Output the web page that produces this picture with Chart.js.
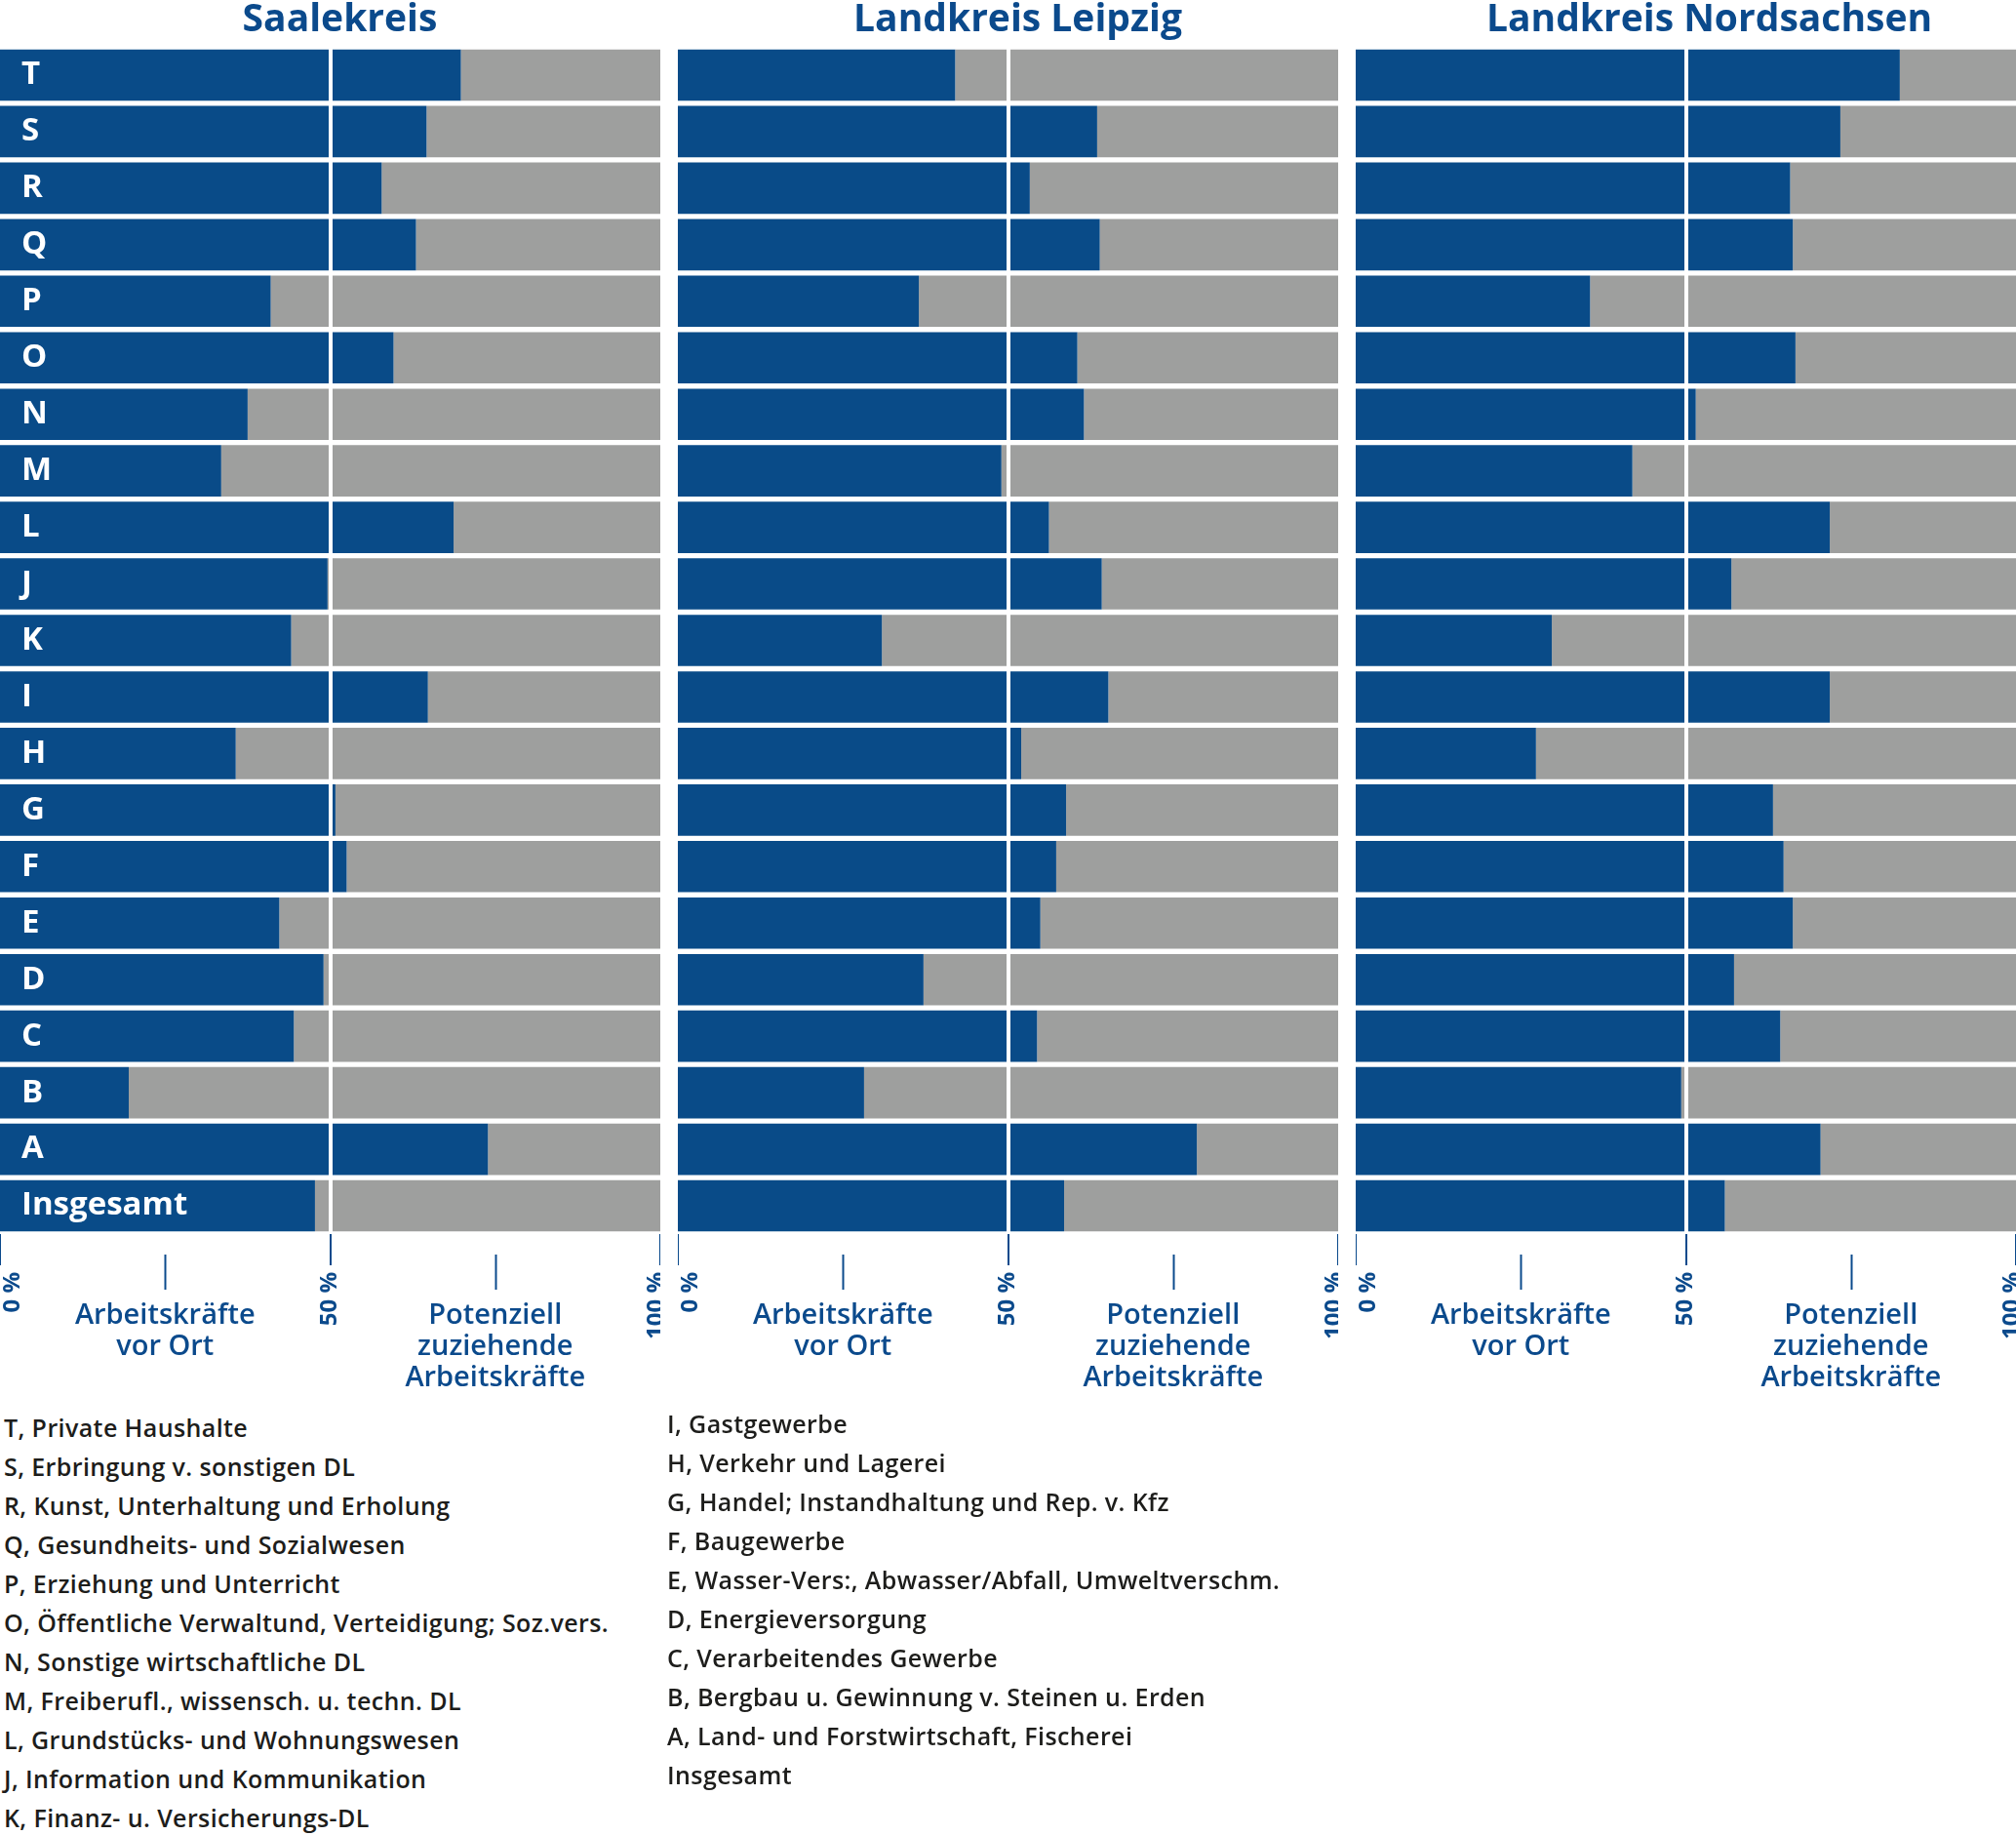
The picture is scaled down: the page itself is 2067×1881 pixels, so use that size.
<!DOCTYPE html>
<html lang="de">
<head>
<meta charset="utf-8">
<title>Arbeitskräfte vor Ort und potenziell zuziehende Arbeitskräfte</title>
<script src="https://cdn.jsdelivr.net/npm/chart.js@4.4.1/dist/chart.umd.min.js"></script>
<style>
  html, body { margin: 0; padding: 0; background: #ffffff; }
  body { width: 2067px; height: 1881px; position: relative; overflow: hidden; font-family: 'Open Sans', sans-serif; }
  .panel { position: absolute; top: 0; width: 677px; height: 1440px; }
  .key { position: absolute; font-family: 'Open Sans', sans-serif; font-weight: 600; font-size: 25px; letter-spacing: 0.4px; line-height: 40px; color: #1d1d1b; white-space: nowrap; }
</style>
</head>
<body>
<div class="panel" style="left:0px"><canvas id="c0"></canvas></div>
<div class="panel" style="left:695px"><canvas id="c1"></canvas></div>
<div class="panel" style="left:1390px"><canvas id="c2"></canvas></div>
<div class="key" id="key1" style="left:4px; top:1443px"></div>
<div class="key" id="key2" style="left:684px; top:1439px"></div>
<script>
// ---------- data ----------
const categories = ['T','S','R','Q','P','O','N','M','L','J','K','I','H','G','F','E','D','C','B','A','Insgesamt'];
const regions = ['Saalekreis', 'Landkreis Leipzig', 'Landkreis Nordsachsen'];
// Anteil "Arbeitskräfte vor Ort" in %
const saalekreis  = [69.8, 64.6, 57.8, 63.0, 41.0, 59.6, 37.5, 33.5, 68.7, 49.6, 44.1, 64.8, 35.7, 50.8, 52.5, 42.3, 49.0, 44.5, 19.5, 73.9, 47.7];
const leipzig     = [42.0, 63.5, 53.3, 63.9, 36.5, 60.5, 61.5, 49.0, 56.2, 64.2, 30.9, 65.2, 52.0, 58.8, 57.3, 54.9, 37.2, 54.4, 28.2, 78.6, 58.5];
const nordsachsen = [82.4, 73.4, 65.8, 66.2, 35.5, 66.6, 51.5, 41.9, 71.8, 56.9, 29.7, 71.8, 27.3, 63.2, 64.8, 66.2, 57.3, 64.3, 49.3, 70.4, 55.9];
const seriesNames = ['Arbeitskräfte vor Ort', 'Potenziell zuziehende Arbeitskräfte'];
const xTickValues = [0, 50, 100];
const xTickLabels = ['0 %', '50 %', '100 %'];
const groupValues = [25, 75];
const groupLabels = [['Arbeitskräfte', 'vor Ort'], ['Potenziell', 'zuziehende', 'Arbeitskräfte']];
const keyColumn1 = [
  'T, Private Haushalte',
  'S, Erbringung v. sonstigen DL',
  'R, Kunst, Unterhaltung und Erholung',
  'Q, Gesundheits- und Sozialwesen',
  'P, Erziehung und Unterricht',
  'O, Öffentliche Verwaltund, Verteidigung; Soz.vers.',
  'N, Sonstige wirtschaftliche DL',
  'M, Freiberufl., wissensch. u. techn. DL',
  'L, Grundstücks- und Wohnungswesen',
  'J, Information und Kommunikation',
  'K, Finanz- u. Versicherungs-DL'
];
const keyColumn2 = [
  'I, Gastgewerbe',
  'H, Verkehr und Lagerei',
  'G, Handel; Instandhaltung und Rep. v. Kfz',
  'F, Baugewerbe',
  'E, Wasser-Vers:, Abwasser/Abfall, Umweltverschm.',
  'D, Energieversorgung',
  'C, Verarbeitendes Gewerbe',
  'B, Bergbau u. Gewinnung v. Steinen u. Erden',
  'A, Land- und Forstwirtschaft, Fischerei',
  'Insgesamt'
];

// ---------- style ----------
const BLUE = '#094b88';
const GREY = '#9e9f9e';
const TEXTBLUE = '#0b4a8c';
Chart.defaults.font.family = "'Open Sans', sans-serif";

document.getElementById('key1').innerHTML = keyColumn1.map(t => '<div>' + t + '</div>').join('');
document.getElementById('key2').innerHTML = keyColumn2.map(t => '<div>' + t + '</div>').join('');

const axisDecor = {
  id: 'axisDecor',
  afterDraw(chart, args, opts) {
    const ctx = chart.ctx;
    const xs = chart.scales.x;
    const b = chart.chartArea.bottom;
    ctx.save();
    // panel title
    ctx.fillStyle = TEXTBLUE;
    ctx.font = "bold 39px 'Open Sans', sans-serif";
    ctx.textAlign = 'center';
    ctx.textBaseline = 'alphabetic';
    ctx.fillText(opts.title, (chart.chartArea.left + chart.chartArea.right) / 2 + opts.titleShift, 32);
    // short ticks at group positions
    ctx.strokeStyle = TEXTBLUE;
    ctx.lineWidth = 2;
    groupValues.forEach(v => {
      const px = Math.round(xs.getPixelForValue(v)) + 0.5;
      ctx.beginPath();
      ctx.moveTo(px, b + 21);
      ctx.lineTo(px, b + 57);
      ctx.stroke();
    });
    // rotated percent labels
    ctx.font = "bold 24px 'Open Sans', sans-serif";
    xTickValues.forEach((v, i) => {
      let px = xs.getPixelForValue(v);
      if (i === 0) px += 13;
      if (i === xTickValues.length - 1) px -= 4;
      ctx.save();
      ctx.translate(px, b + 39);
      ctx.rotate(-Math.PI / 2);
      ctx.textAlign = 'right';
      ctx.textBaseline = 'middle';
      ctx.fillText(xTickLabels[i], 0, 0);
      ctx.restore();
    });
    // group captions
    ctx.font = "600 29px 'Open Sans', sans-serif";
    ctx.textAlign = 'center';
    ctx.textBaseline = 'alphabetic';
    groupValues.forEach((v, i) => {
      const px = xs.getPixelForValue(v);
      groupLabels[i].forEach((line, j) => {
        ctx.fillText(line, px, b + 92 + j * 32);
      });
    });
    ctx.restore();
  }
};

function makeChart(id, title, values, showLabels, titleShift) {
  const rest = values.map(v => +(100 - v).toFixed(1));
  return new Chart(document.getElementById(id), {
    type: 'bar',
    data: {
      labels: categories,
      datasets: [
        { label: seriesNames[0], data: values, backgroundColor: BLUE, borderWidth: 0 },
        { label: seriesNames[1], data: rest, backgroundColor: GREY, borderWidth: 0 }
      ]
    },
    options: {
      indexAxis: 'y',
      responsive: true,
      maintainAspectRatio: false,
      animation: false,
      barPercentage: 0.908,
      categoryPercentage: 1.0,
      layout: { padding: { top: 48, left: 0, right: 0, bottom: 143 } },
      plugins: {
        legend: { display: false },
        tooltip: { enabled: false },
        title: { display: false },
        axisDecor: { title: title, titleShift: titleShift }
      },
      scales: {
        x: {
          type: 'linear',
          stacked: true,
          min: 0,
          max: 100,
          border: { display: false },
          ticks: { display: false, stepSize: 25, z: 1 },
          grid: {
            z: 1,
            drawOnChartArea: true,
            drawTicks: true,
            tickLength: 32,
            tickWidth: 2,
            color: c => (c.tick && c.tick.value === 50) ? '#ffffff' : 'rgba(0,0,0,0)',
            lineWidth: c => (c.tick && c.tick.value === 50) ? 4 : 0,
            tickColor: c => (c.tick && (c.tick.value % 50 === 0)) ? TEXTBLUE : 'rgba(0,0,0,0)'
          }
        },
        y: {
          type: 'category',
          stacked: true,
          display: showLabels,
          afterFit: s => { s.width = 0; },
          border: { display: false },
          grid: { display: false, drawTicks: false },
          ticks: {
            z: 1,
            mirror: true,
            padding: 22,
            color: '#ffffff',
            font: { family: "'Open Sans', sans-serif", weight: 'bold', size: 33 }
          }
        }
      }
    },
    plugins: [axisDecor]
  });
}

makeChart('c0', regions[0], saalekreis, true, 10);
makeChart('c1', regions[1], leipzig, false, 10);
makeChart('c2', regions[2], nordsachsen, false, 24);
</script>
</body>
</html>
